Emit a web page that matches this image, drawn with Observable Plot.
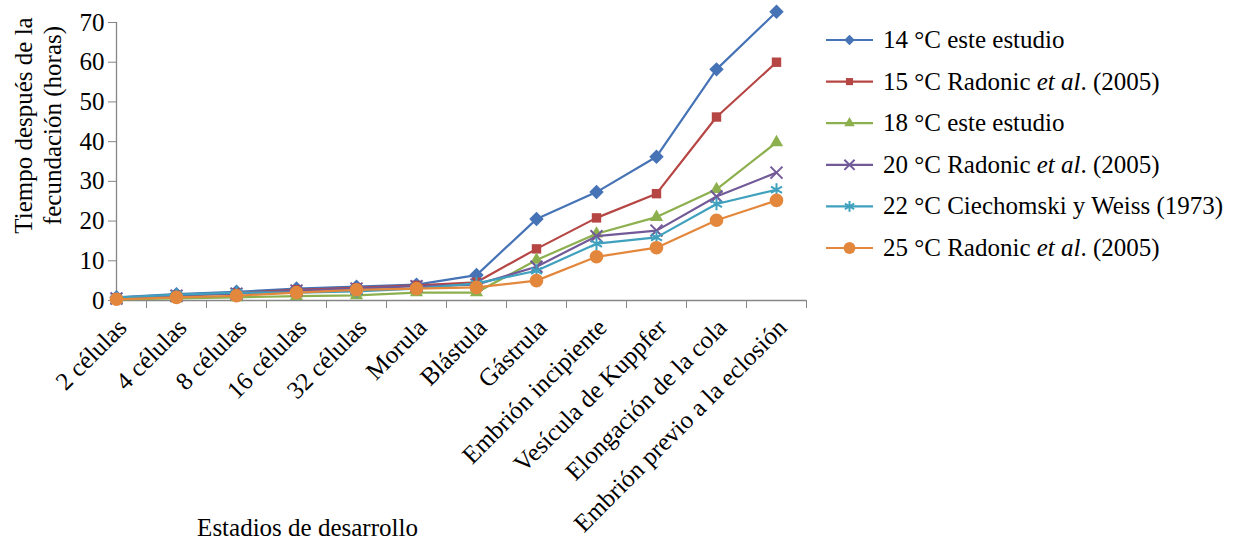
<!DOCTYPE html>
<html>
<head>
<meta charset="utf-8">
<script src="https://cdn.jsdelivr.net/npm/d3@7"></script>
<script src="https://cdn.jsdelivr.net/npm/@observablehq/plot@0.6"></script>
<style>
  body { margin: 0; background: #fff; }
  #chart { position: relative; width: 1244px; height: 540px; }
  #chart svg, #chart svg text, #chart svg tspan { font-family: "Liberation Serif", serif !important; }
  #chart svg { color: #000; }
</style>
</head>
<body>
<div id="chart"></div>
<script>
// ---- data ----
const stages = ["2 células", "4 células", "8 células", "16 células", "32 células", "Morula", "Blástula",
  "Gástrula", "Embrión incipiente", "Vesícula de Kuppfer", "Elongación de la cola", "Embrión previo a la eclosión"];
const t14 = [0.8, 1.6, 2.2, 3.0, 3.5, 4.0, 6.4, 20.5, 27.3, 36.2, 58.2, 72.7];
const t15 = [0.6, 1.3, 1.9, 2.7, 3.2, 3.8, 4.6, 13.0, 20.8, 26.9, 46.2, 60.0];
const t18 = [0.3, 0.5, 0.8, 1.1, 1.3, 2.0, 2.0, 10.2, 16.8, 21.0, 28.0, 39.8];
const t20 = [0.5, 1.2, 1.7, 2.5, 3.0, 3.6, 4.0, 8.5, 16.2, 17.6, 26.2, 32.2];
const t22 = [0.7, 1.5, 2.0, 2.0, 2.3, 3.0, 4.3, 7.5, 14.3, 15.9, 24.3, 27.9];
const t25 = [0.3, 0.8, 1.2, 2.0, 2.7, 3.0, 3.3, 5.0, 11.0, 13.3, 20.2, 25.2];
const seriesNames = ["14 °C este estudio", "15 °C Radonic et al. (2005)", "18 °C este estudio",
  "20 °C Radonic et al. (2005)", "22 °C Ciechomski y Weiss (1973)", "25 °C Radonic et al. (2005)"];
// legend label parts: [roman, italic, roman]
const legendParts = [
  ["14 °C este estudio", "", ""],
  ["15 °C Radonic ", "et al", ". (2005)"],
  ["18 °C este estudio", "", ""],
  ["20 °C Radonic ", "et al", ". (2005)"],
  ["22 °C Ciechomski y Weiss (1973)", "", ""],
  ["25 °C Radonic ", "et al", ". (2005)"]
];
const colors = ["#4673B6", "#B54643", "#8DB04F", "#725A98", "#3FA1BD", "#E3873C"];
const symbols = ["diamond2", "square2", "triangle2", "times", "asterisk", "circle"];
const yTicks = [0, 10, 20, 30, 40, 50, 60, 70];
const xTitle = "Estadios de desarrollo";
const yTitle = "Tiempo después de la\nfecundación (horas)";

// ---- build ----
const seriesValues = [t14, t15, t18, t20, t22, t25];
const data = seriesValues.flatMap((vals, k) => vals.map((v, i) => ({series: seriesNames[k], k, i, v})));
const dividers = d3.range(stages.length).map(i => i + 0.5);
const FS = 25;
const FONT = '"Liberation Serif", serif';
const axisGray = "#868686";

const seriesMarks = seriesValues.flatMap((vals, k) => {
  const d = data.filter(r => r.k === k);
  const hollow = symbols[k] === "times" || symbols[k] === "asterisk";
  const r = {diamond2: 6.5, square2: 6, triangle2: 6.3, times: 5.5, asterisk: 6, circle: 6.8}[symbols[k]];
  return [
    Plot.line(d, {x: "i", y: "v", stroke: colors[k], strokeWidth: 2.2}),
    Plot.dot(d, hollow
      ? {x: "i", y: "v", symbol: () => symbols[k], r, stroke: colors[k], strokeWidth: 2, fill: "none"}
      : {x: "i", y: "v", symbol: () => symbols[k], r, fill: colors[k], stroke: "none"})
  ];
});

const chart = Plot.plot({
  width: 1244,
  height: 540,
  marginTop: 22,
  marginBottom: 240,
  marginLeft: 116,
  marginRight: 438,
  style: {fontFamily: FONT, fontSize: FS + "px", color: "#000", background: "#fff"},
  x: {type: "linear", domain: [0, stages.length - 0.5], axis: null},
  y: {domain: [0, 70], axis: null},
  symbol: {type: "identity"},
  marks: [
    Plot.axisY({ticks: yTicks, tickSize: 8, tickPadding: 4, stroke: axisGray, fontSize: FS, fontFamily: FONT, label: null, tickFormat: d => d}),
    Plot.axisX({ticks: dividers, tickSize: 8, stroke: axisGray, tickFormat: () => "", label: null}),
    Plot.ruleY([0], {stroke: axisGray, strokeWidth: 1.3}),
    Plot.ruleX([0], {stroke: axisGray, strokeWidth: 1.3}),
    Plot.text(stages, {x: (d, i) => i, frameAnchor: "bottom", text: d => d, textAnchor: "end", lineAnchor: "middle",
      rotate: -45, dx: 6, dy: 23, fontSize: FS, fontFamily: FONT, fill: "#000"}),
    Plot.text([yTitle], {frameAnchor: "left", text: d => d, rotate: -90, textAnchor: "middle", lineAnchor: "middle",
      lineHeight: 1.16, dx: -79, dy: -36, fontSize: FS, fontFamily: FONT, fill: "#000"}),
    Plot.text([xTitle], {frameAnchor: "bottom", text: d => d, textAnchor: "middle", lineAnchor: "middle",
      dx: -154, dy: 227, fontSize: FS, fontFamily: FONT, fill: "#000"}),
    ...seriesMarks
  ]
});
document.getElementById("chart").appendChild(chart);

// ---- legend (appended into the same SVG) ----
const svg = d3.select(chart);
const lg = svg.append("g").attr("class", "legend")
  .attr("font-family", FONT).attr("font-size", FS).attr("text-anchor", "start");
const symMap = {diamond2: d3.symbolDiamond2, square2: d3.symbolSquare2, triangle2: d3.symbolTriangle2,
  times: d3.symbolTimes, asterisk: d3.symbolAsterisk, circle: d3.symbolCircle};
const symSize = {diamond2: 70, square2: 64, triangle2: 80, times: 70, asterisk: 80, circle: 110};
legendParts.forEach((parts, k) => {
  const y = 40 + k * 41.6;
  const g = lg.append("g").attr("transform", `translate(0,${y})`);
  g.append("line").attr("x1", 826).attr("x2", 873).attr("y1", 0).attr("y2", 0)
    .attr("stroke", colors[k]).attr("stroke-width", 2.2);
  const hollow = symbols[k] === "times" || symbols[k] === "asterisk";
  g.append("path").attr("transform", "translate(849.5,0)")
    .attr("d", d3.symbol(symMap[symbols[k]], symSize[symbols[k]])())
    .attr("fill", hollow ? "none" : colors[k])
    .attr("stroke", hollow ? colors[k] : "none").attr("stroke-width", 2);
  const t = g.append("text").attr("x", 883).attr("y", 0).attr("dy", "0.32em")
    .attr("text-anchor", "start").attr("fill", "#000");
  t.append("tspan").text(parts[0]);
  if (parts[1]) t.append("tspan").attr("font-style", "italic").text(parts[1]);
  if (parts[2]) t.append("tspan").text(parts[2]);
});
</script>
</body>
</html>
